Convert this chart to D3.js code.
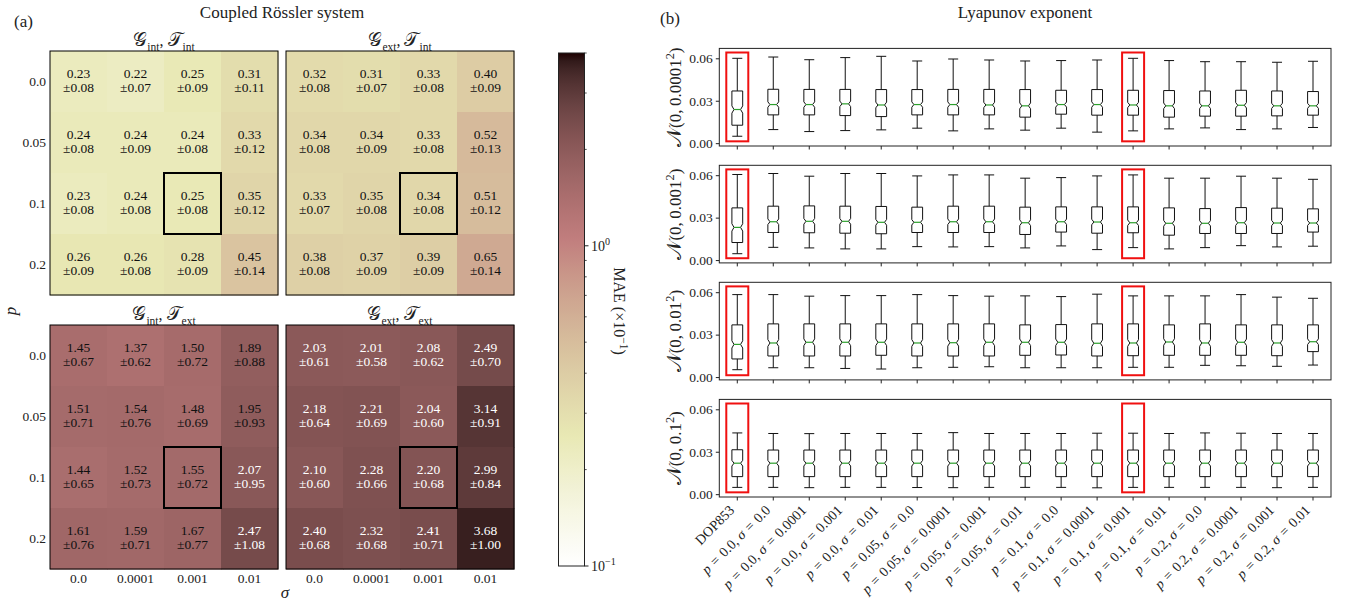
<!DOCTYPE html>
<html>
<head>
<meta charset="utf-8">
<script src="https://cdn.jsdelivr.net/npm/d3@7"></script>
<style>
  body { margin: 0; background: #fff; }
  svg text { font-family: "Liberation Serif", "DejaVu Serif", serif; fill: #222; }
  .cal { font-family: "DejaVu Sans", "Noto Sans", "DejaVu Serif", serif; }
</style>
</head>
<body>
<svg id="fig" width="1351" height="606"></svg>
<script>
// ---------------- data ----------------
const sigmaLevels = ["0.0", "0.0001", "0.001", "0.01"];
const pLevels = ["0.0", "0.05", "0.1", "0.2"];

// MAE (x10^-1), rows = p, columns = sigma
const maeIntInt = [[0.23, 0.22, 0.25, 0.31], [0.24, 0.24, 0.24, 0.33], [0.23, 0.24, 0.25, 0.35], [0.26, 0.26, 0.28, 0.45]];
const sdIntInt  = [[0.08, 0.07, 0.09, 0.11], [0.08, 0.09, 0.08, 0.12], [0.08, 0.08, 0.08, 0.12], [0.09, 0.08, 0.09, 0.14]];
const maeExtInt = [[0.32, 0.31, 0.33, 0.40], [0.34, 0.34, 0.33, 0.52], [0.33, 0.35, 0.34, 0.51], [0.38, 0.37, 0.39, 0.65]];
const sdExtInt  = [[0.08, 0.07, 0.08, 0.09], [0.08, 0.09, 0.08, 0.13], [0.07, 0.08, 0.08, 0.12], [0.08, 0.09, 0.09, 0.14]];
const maeIntExt = [[1.45, 1.37, 1.50, 1.89], [1.51, 1.54, 1.48, 1.95], [1.44, 1.52, 1.55, 2.07], [1.61, 1.59, 1.67, 2.47]];
const sdIntExt  = [[0.67, 0.62, 0.72, 0.88], [0.71, 0.76, 0.69, 0.93], [0.65, 0.73, 0.72, 0.95], [0.76, 0.71, 0.77, 1.08]];
const maeExtExt = [[2.03, 2.01, 2.08, 2.49], [2.18, 2.21, 2.04, 3.14], [2.10, 2.28, 2.20, 2.99], [2.40, 2.32, 2.41, 3.68]];
const sdExtExt  = [[0.61, 0.58, 0.62, 0.70], [0.64, 0.69, 0.60, 0.91], [0.60, 0.66, 0.68, 0.84], [0.68, 0.68, 0.71, 1.00]];

const bestCell = { p: "0.1", sigma: "0.001" };

// Lyapunov exponent boxplots: [whisker low, q1, median, q3, whisker high]
const methods = ["DOP853"].concat(pLevels.flatMap(p => sigmaLevels.map(s => `p = ${p}, σ = ${s}`)));
const highlighted = ["DOP853", "p = 0.1, σ = 0.001"];
const noiseLevels = ["0.0001", "0.001", "0.01", "0.1"];

const lyapNoise1e4 = [
  [0.0049, 0.0127, 0.0238, 0.0369, 0.0600],
  [0.0096, 0.0200, 0.0273, 0.0381, 0.0609],
  [0.0082, 0.0200, 0.0273, 0.0380, 0.0590],
  [0.0089, 0.0195, 0.0278, 0.0380, 0.0605],
  [0.0094, 0.0188, 0.0270, 0.0379, 0.0614],
  [0.0106, 0.0200, 0.0273, 0.0379, 0.0581],
  [0.0087, 0.0200, 0.0273, 0.0380, 0.0595],
  [0.0101, 0.0200, 0.0270, 0.0380, 0.0588],
  [0.0092, 0.0184, 0.0264, 0.0379, 0.0581],
  [0.0106, 0.0205, 0.0273, 0.0374, 0.0584],
  [0.0078, 0.0198, 0.0273, 0.0379, 0.0588],
  [0.0087, 0.0198, 0.0270, 0.0374, 0.0600],
  [0.0101, 0.0184, 0.0264, 0.0372, 0.0584],
  [0.0108, 0.0191, 0.0264, 0.0369, 0.0576],
  [0.0096, 0.0191, 0.0268, 0.0374, 0.0576],
  [0.0101, 0.0193, 0.0264, 0.0369, 0.0572],
  [0.0111, 0.0198, 0.0264, 0.0365, 0.0579]
];
const lyapNoise1e3 = [
  [0.0045, 0.0124, 0.0231, 0.0369, 0.0605],
  [0.0090, 0.0195, 0.0271, 0.0381, 0.0612],
  [0.0086, 0.0193, 0.0274, 0.0383, 0.0593],
  [0.0079, 0.0190, 0.0274, 0.0381, 0.0612],
  [0.0079, 0.0186, 0.0267, 0.0379, 0.0612],
  [0.0095, 0.0195, 0.0267, 0.0374, 0.0595],
  [0.0093, 0.0195, 0.0271, 0.0381, 0.0602],
  [0.0095, 0.0195, 0.0271, 0.0381, 0.0602],
  [0.0086, 0.0181, 0.0264, 0.0374, 0.0579],
  [0.0100, 0.0198, 0.0271, 0.0376, 0.0583],
  [0.0074, 0.0190, 0.0269, 0.0376, 0.0595],
  [0.0088, 0.0193, 0.0264, 0.0376, 0.0602],
  [0.0079, 0.0176, 0.0260, 0.0369, 0.0579],
  [0.0088, 0.0188, 0.0260, 0.0364, 0.0579],
  [0.0102, 0.0188, 0.0264, 0.0371, 0.0593],
  [0.0093, 0.0188, 0.0262, 0.0367, 0.0579],
  [0.0098, 0.0198, 0.0262, 0.0362, 0.0571]
];
const lyapNoise1e2 = [
  [0.0052, 0.0128, 0.0231, 0.0369, 0.0583],
  [0.0066, 0.0149, 0.0241, 0.0376, 0.0583],
  [0.0066, 0.0149, 0.0246, 0.0376, 0.0572],
  [0.0061, 0.0149, 0.0246, 0.0376, 0.0576],
  [0.0057, 0.0154, 0.0246, 0.0376, 0.0576],
  [0.0066, 0.0149, 0.0241, 0.0376, 0.0583],
  [0.0069, 0.0149, 0.0243, 0.0376, 0.0576],
  [0.0073, 0.0149, 0.0246, 0.0376, 0.0572],
  [0.0066, 0.0154, 0.0246, 0.0369, 0.0574],
  [0.0066, 0.0156, 0.0246, 0.0371, 0.0569],
  [0.0066, 0.0149, 0.0239, 0.0376, 0.0586],
  [0.0069, 0.0151, 0.0241, 0.0376, 0.0574],
  [0.0069, 0.0154, 0.0248, 0.0369, 0.0574],
  [0.0083, 0.0154, 0.0241, 0.0376, 0.0574],
  [0.0080, 0.0154, 0.0246, 0.0369, 0.0583],
  [0.0076, 0.0151, 0.0241, 0.0369, 0.0565],
  [0.0085, 0.0180, 0.0250, 0.0369, 0.0557]
];
const lyapNoise1e1 = [
  [0.0048, 0.0124, 0.0219, 0.0314, 0.0433],
  [0.0048, 0.0124, 0.0219, 0.0312, 0.0429],
  [0.0046, 0.0124, 0.0219, 0.0312, 0.0428],
  [0.0048, 0.0124, 0.0219, 0.0312, 0.0429],
  [0.0048, 0.0124, 0.0219, 0.0312, 0.0429],
  [0.0047, 0.0124, 0.0219, 0.0312, 0.0429],
  [0.0046, 0.0124, 0.0219, 0.0312, 0.0435],
  [0.0048, 0.0124, 0.0219, 0.0312, 0.0429],
  [0.0048, 0.0124, 0.0219, 0.0312, 0.0429],
  [0.0048, 0.0124, 0.0219, 0.0312, 0.0429],
  [0.0045, 0.0124, 0.0219, 0.0312, 0.0431],
  [0.0048, 0.0124, 0.0219, 0.0312, 0.0431],
  [0.0048, 0.0124, 0.0219, 0.0312, 0.0429],
  [0.0048, 0.0124, 0.0219, 0.0312, 0.0433],
  [0.0048, 0.0124, 0.0219, 0.0312, 0.0431],
  [0.0046, 0.0124, 0.0219, 0.0312, 0.0429],
  [0.0048, 0.0124, 0.0219, 0.0312, 0.0429]
];
const lyapPanels = [lyapNoise1e4, lyapNoise1e3, lyapNoise1e2, lyapNoise1e1];
const samplesPerBox = 220;

// ---------------- helpers ----------------
const svg = d3.select("#fig");

// matplotlib "pink": sqrt((2*gray + hot) / 3)
function pink(x) {
  const r = x < 0.365079 ? 0.0416 + (1 - 0.0416) * x / 0.365079 : 1;
  const g = x < 0.365079 ? 0 : x < 0.746032 ? (x - 0.365079) / (0.746032 - 0.365079) : 1;
  const b = x < 0.746032 ? 0 : (x - 0.746032) / (1 - 0.746032);
  const f = h => 255 * Math.sqrt((2 * x + h) / 3);
  return d3.rgb(f(r), f(g), f(b)).formatHex();
}
const maeNorm = d3.scaleLog().domain([0.1, 4]).range([0, 1]).clamp(true);
const maeColor = v => pink(1 - maeNorm(v));

// text made of segments: {t, it (italic), cal (script letter), sub, sup}
function rich(textSel, segs, size) {
  let shift = 0;
  segs.forEach(s => {
    const ts = textSel.append("tspan").text(s.t);
    let target = 0;
    if (s.sub) target = size * 0.3;
    if (s.sup) target = -size * 0.4;
    if (target !== shift) { ts.attr("dy", target - shift); shift = target; }
    if (s.sub || s.sup) ts.attr("font-size", size * 0.72);
    if (s.it) ts.attr("font-style", "italic");
    if (s.cal) ts.attr("class", "cal").attr("font-size", size * 1.2);
  });
  return textSel;
}
// math-style spacing around relation signs
const mathSpaced = s => s.replace(/ = /g, "\u2004=\u2004");

// ---------------- (a) heatmaps ----------------
const cellW = 57, cellH = 61;
const heatPanels = [
  { mean: maeIntInt, sd: sdIntInt, g: "int", t: "int", x0: 50,  y0: 51 },
  { mean: maeExtInt, sd: sdExtInt, g: "ext", t: "int", x0: 286, y0: 51 },
  { mean: maeIntExt, sd: sdIntExt, g: "int", t: "ext", x0: 50,  y0: 325 },
  { mean: maeExtExt, sd: sdExtExt, g: "ext", t: "ext", x0: 286, y0: 325 }
];

heatPanels.forEach((hp, k) => {
  const x = d3.scaleBand().domain(sigmaLevels).range([hp.x0, hp.x0 + 4 * cellW]);
  const y = d3.scaleBand().domain(pLevels).range([hp.y0, hp.y0 + 4 * cellH]);
  const g = svg.append("g");
  const cells = [];
  pLevels.forEach((p, i) => sigmaLevels.forEach((s, j) =>
    cells.push({ p, s, v: hp.mean[i][j], e: hp.sd[i][j] })));

  g.selectAll("rect.cell").data(cells).join("rect")
    .attr("class", "cell")
    .attr("x", d => x(d.s)).attr("y", d => y(d.p))
    .attr("width", x.bandwidth() + 0.5).attr("height", y.bandwidth() + 0.5)
    .attr("fill", d => maeColor(d.v));

  const lab = g.selectAll("text.val").data(cells).join("text")
    .attr("class", "val")
    .attr("text-anchor", "middle")
    .attr("font-size", 13.5)
    .style("fill", d => d.v > 2.0 ? "#ffffff" : "#111111");
  lab.append("tspan")
    .attr("x", d => x(d.s) + x.bandwidth() / 2)
    .attr("y", d => y(d.p) + y.bandwidth() / 2 - 3.5)
    .text(d => d.v.toFixed(2));
  lab.append("tspan")
    .attr("x", d => x(d.s) + x.bandwidth() / 2)
    .attr("y", d => y(d.p) + y.bandwidth() / 2 + 10.8)
    .text(d => "±" + d.e.toFixed(2));

  // best configuration
  g.append("rect")
    .attr("x", x(bestCell.sigma)).attr("y", y(bestCell.p))
    .attr("width", x.bandwidth()).attr("height", y.bandwidth())
    .attr("fill", "none").attr("stroke", "#000").attr("stroke-width", 2);

  // frame
  g.append("rect")
    .attr("x", hp.x0).attr("y", hp.y0)
    .attr("width", 4 * cellW).attr("height", 4 * cellH)
    .attr("fill", "none").attr("stroke", "#000").attr("stroke-width", 1);

  // title
  rich(g.append("text")
    .attr("x", hp.x0 + 2 * cellW).attr("y", hp.y0 - 5)
    .attr("text-anchor", "middle").attr("font-size", 16),
    [{ t: "𝒢", cal: true }, { t: hp.g, sub: true }, { t: ", " }, { t: "𝒯", cal: true }, { t: hp.t, sub: true }], 16);

  // p ticks on the left column of panels
  if (hp.x0 === 50) {
    g.selectAll("text.ptick").data(pLevels).join("text")
      .attr("class", "ptick")
      .attr("x", hp.x0 - 4).attr("y", d => y(d) + y.bandwidth() / 2 + 4.5)
      .attr("text-anchor", "end").attr("font-size", 13.5)
      .text(d => d);
  }
  // sigma ticks under the bottom row of panels
  if (hp.y0 === 325) {
    g.selectAll("text.stick").data(sigmaLevels).join("text")
      .attr("class", "stick")
      .attr("x", d => x(d) + x.bandwidth() / 2).attr("y", 582.5)
      .attr("text-anchor", "middle").attr("font-size", 13.5)
      .text(d => d);
  }
});

svg.append("text").attr("transform", "translate(16,311) rotate(-90)")
  .attr("text-anchor", "middle").attr("font-size", 17).attr("font-style", "italic").text("p");
svg.append("text").attr("x", 285).attr("y", 598)
  .attr("text-anchor", "middle").attr("font-size", 17).attr("font-style", "italic").text("σ");

svg.append("text").attr("x", 14).attr("y", 27).attr("font-size", 17).text("(a)");
svg.append("text").attr("x", 282).attr("y", 18).attr("text-anchor", "middle").attr("font-size", 17)
  .text("Coupled Rössler system");

// colorbar
const cb = { x: 558.5, w: 26, top: 53, bottom: 566 };
const cbScale = d3.scaleLog().domain([0.1, 4]).range([cb.bottom, cb.top]);
const defs = svg.append("defs");
const grad = defs.append("linearGradient").attr("id", "maeGrad")
  .attr("x1", 0).attr("y1", 1).attr("x2", 0).attr("y2", 0);
d3.range(0, 65).forEach(i => {
  const t = i / 64;
  grad.append("stop").attr("offset", t).attr("stop-color", pink(1 - t));
});
svg.append("rect").attr("x", cb.x).attr("y", cb.top).attr("width", cb.w).attr("height", cb.bottom - cb.top)
  .attr("fill", "url(#maeGrad)").attr("stroke", "#222").attr("stroke-width", 1);
const cbAxis = svg.append("g").attr("transform", `translate(${cb.x + cb.w},0)`);
const cbMinor = [0.2, 0.3, 0.4, 0.5, 0.6, 0.7, 0.8, 0.9, 2, 3, 4];
cbAxis.selectAll("line.minor").data(cbMinor).join("line")
  .attr("x1", 0).attr("x2", 2.2).attr("y1", d => cbScale(d)).attr("y2", d => cbScale(d))
  .attr("stroke", "#222").attr("stroke-width", 0.8);
cbAxis.selectAll("line.major").data([0.1, 1]).join("line")
  .attr("x1", 0).attr("x2", 4).attr("y1", d => cbScale(d)).attr("y2", d => cbScale(d))
  .attr("stroke", "#222").attr("stroke-width", 1);
[[1, "0"], [0.1, "−1"]].forEach(([v, ex]) => {
  rich(cbAxis.append("text").attr("x", 6.5).attr("y", cbScale(v) + 5).attr("font-size", 14),
    [{ t: "10" }, { t: ex, sup: true }], 14);
});
rich(svg.append("text").attr("transform", "translate(614,311) rotate(90)")
  .attr("text-anchor", "middle").attr("font-size", 16),
  [{ t: "MAE (×10" }, { t: "−1", sup: true }, { t: ")" }], 16);

// ---------------- (b) boxplots ----------------
const bx = { left: 719.3, right: 1331, h: 97.6 };
const panelTops = [48.4, 165.3, 282.3, 399.4];
const xBand = d3.scaleBand().domain(methods).range([bx.left, bx.right]);
const xc = m => xBand(m) + xBand.bandwidth() / 2;
const boxHalf = 5.4, notchHalf = 3.3, capHalf = 5.0;

svg.append("text").attr("x", 660).attr("y", 24).attr("font-size", 17).text("(b)");
svg.append("text").attr("x", 1025).attr("y", 18).attr("text-anchor", "middle").attr("font-size", 17)
  .text("Lyapunov exponent");

lyapPanels.forEach((stats, k) => {
  const top = panelTops[k];
  const y = d3.scaleLinear().domain([-0.002, 0.067]).range([top + bx.h, top]);
  const g = svg.append("g");

  // highlight frames
  g.selectAll("rect.hl").data(highlighted).join("rect")
    .attr("class", "hl")
    .attr("x", d => xc(d) - 11).attr("width", 22)
    .attr("y", y(0.0641)).attr("height", y(0.0013) - y(0.0641))
    .attr("fill", "none").attr("stroke", "#f01010").attr("stroke-width", 2);

  const boxes = g.selectAll("g.box").data(stats.map((s, i) => ({ m: methods[i], s }))).join("g").attr("class", "box");
  boxes.each(function (d) {
    const [lo, q1, med, q3, hi] = d.s;
    const c = xc(d.m);
    const ci = 1.57 * (q3 - q1) / Math.sqrt(samplesPerBox);
    const sel = d3.select(this);
    const line = (x1, y1, x2, y2) => sel.append("line")
      .attr("x1", x1).attr("y1", y1).attr("x2", x2).attr("y2", y2)
      .attr("stroke", "#111").attr("stroke-width", 1);
    line(c, y(hi), c, y(q3));
    line(c, y(q1), c, y(lo));
    line(c - capHalf, y(hi), c + capHalf, y(hi));
    line(c - capHalf, y(lo), c + capHalf, y(lo));
    const pts = [
      [c - boxHalf, y(q1)], [c + boxHalf, y(q1)], [c + boxHalf, y(med - ci)], [c + notchHalf, y(med)],
      [c + boxHalf, y(med + ci)], [c + boxHalf, y(q3)], [c - boxHalf, y(q3)], [c - boxHalf, y(med + ci)],
      [c - notchHalf, y(med)], [c - boxHalf, y(med - ci)]
    ];
    sel.append("path").attr("d", d3.line()(pts) + "Z")
      .attr("fill", "none").attr("stroke", "#111").attr("stroke-width", 1);
    sel.append("line").attr("x1", c - notchHalf).attr("x2", c + notchHalf)
      .attr("y1", y(med)).attr("y2", y(med))
      .attr("stroke", "#2ca02c").attr("stroke-width", 1.2);
  });

  // axes
  const ya = g.append("g").attr("transform", `translate(${bx.left},0)`)
    .call(d3.axisLeft(y).tickValues([0, 0.03, 0.06]).tickFormat(d3.format(".2f")).tickSize(3.5).tickPadding(3));
  ya.select(".domain").remove();
  ya.selectAll("text").attr("font-size", 13.5).style("font-family", "Liberation Serif").style("fill", "#222");
  ya.selectAll("line").attr("stroke", "#222");

  const xa = g.append("g").attr("transform", `translate(0,${top + bx.h})`)
    .call(d3.axisBottom(xBand).tickSize(3.5).tickFormat(""));
  xa.select(".domain").remove();
  xa.selectAll("line").attr("stroke", "#222");

  g.append("rect").attr("x", bx.left).attr("y", top).attr("width", bx.right - bx.left).attr("height", bx.h)
    .attr("fill", "none").attr("stroke", "#222").attr("stroke-width", 1);

  rich(g.append("text").attr("transform", `translate(681,${top + bx.h / 2}) rotate(-90)`)
    .attr("text-anchor", "middle").attr("font-size", 17),
    [{ t: "𝒩", cal: true }, { t: "(0,\u2009" + noiseLevels[k] }, { t: "2", sup: true }, { t: ")" }], 17);

  if (k === lyapPanels.length - 1) {
    methods.forEach(m => {
      const t = g.append("text")
        .attr("transform", `translate(${xc(m) - 2},${top + bx.h + 14}) rotate(-45)`)
        .attr("text-anchor", "end").attr("font-size", 14)
        .style("fill", "#222");
      const segs = mathSpaced(m).split(/(p|σ)/).filter(s => s.length).map(s => ({ t: s, it: s === "p" || s === "σ" }));
      rich(t, segs, 14);
    });
  }
});
</script>
</body>
</html>
